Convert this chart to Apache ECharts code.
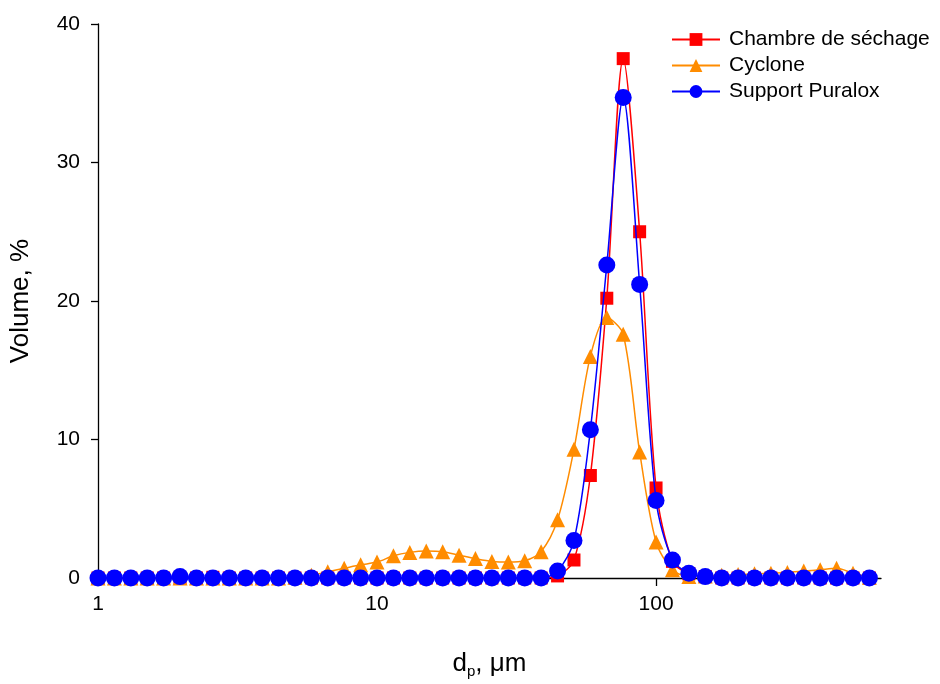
<!DOCTYPE html>
<html>
<head>
<meta charset="utf-8">
<script src="https://cdn.jsdelivr.net/npm/echarts@6/dist/echarts.min.js"></script>
<style>
html,body{margin:0;padding:0;background:#fff;}
#chart{width:940px;height:684px;}
</style>
</head>
<body>
<div id="chart"></div>
<script>
// Particle diameters (µm), log-spaced
var diameters = [1.000,1.145,1.311,1.501,1.719,1.968,2.253,2.580,2.955,3.383,3.874,4.436,5.080,5.816,6.660,7.626,8.733,10.00,11.45,13.11,15.01,17.19,19.68,22.53,25.80,29.55,33.83,38.74,44.36,50.80,58.16,66.60,76.26,87.33,100.0,114.5,131.1,150.1,171.9,196.8,225.3,258.0,295.5,338.3,387.4,443.6,508.0,581.6];

var chambre = [0,0,0,0,0,0,0,0.05,0,0,0,0,0,0,0,0,0,0,0,0,0,0,0,0,0,0,0,0,0.15,1.3,7.4,20.2,37.5,25.0,6.5,1.2,0.3,0.1,0,0,0,0,0,0,0,0,0,0];
var cyclone = [0,0,0,0,0,0,0,0,0,0,0,0,0.05,0.2,0.45,0.7,0.95,1.15,1.6,1.85,1.95,1.9,1.65,1.4,1.2,1.15,1.25,1.9,4.2,9.3,16.0,18.8,17.6,9.1,2.6,0.6,0.1,0.15,0.2,0.25,0.3,0.35,0.4,0.5,0.6,0.7,0.35,0.05];
var puralox = [0,0,0,0,0,0.1,0,0,0,0,0,0,0,0,0,0,0,0,0,0,0,0,0,0,0,0,0,0,0.5,2.7,10.7,22.6,34.7,21.2,5.6,1.3,0.35,0.1,0,0,0,0,0,0,0,0,0,0];

var seriesNames = ['Chambre de séchage','Cyclone','Support Puralox'];
var xTicks = [1,10,100];
var yTicks = [0,10,20,30,40];

function pairs(vals){ return diameters.map(function(d,i){ return [d, vals[i]]; }); }

var font = 'Liberation Sans, Arial, sans-serif';
var chart = echarts.init(document.getElementById('chart'), null, {renderer:'canvas'});
chart.setOption({
  animation:false,
  backgroundColor:'#ffffff',
  grid:{left:98, right:59, top:24, bottom:104, containLabel:false},
  legend:{
    orient:'vertical', left:666, top:24,
    itemWidth:48, itemHeight:16, itemGap:5,
    textStyle:{fontFamily:font, fontSize:21, color:'#000', padding:[0,0,0,4]},
    data:seriesNames
  },
  xAxis:{
    type:'log', logBase:10, min:1, max:640,
    name:'d{s|p}, μm', nameLocation:'middle', nameGap:70,
    nameTextStyle:{fontFamily:font, fontSize:26, color:'#000',
      rich:{s:{fontFamily:font, fontSize:15, color:'#000', verticalAlign:'bottom', padding:[16,0,0,0]}}},
    axisLine:{show:true, onZero:false, lineStyle:{color:'#000', width:1.3}},
    axisTick:{show:true, inside:false, length:8, customValues:xTicks, lineStyle:{color:'#000', width:1.3}},
    minorTick:{show:false},
    axisLabel:{fontFamily:font, fontSize:21, color:'#000', margin:16, customValues:xTicks,
      formatter:function(v){ return String(v); }},
    splitLine:{show:false}
  },
  yAxis:{
    type:'value', min:0, max:40, interval:10,
    name:'Volume, %', nameLocation:'middle', nameGap:64, nameRotate:90,
    nameTextStyle:{fontFamily:font, fontSize:26, color:'#000'},
    axisLine:{show:true, lineStyle:{color:'#000', width:1.3}},
    axisTick:{show:true, inside:false, length:7, lineStyle:{color:'#000', width:1.3}},
    axisLabel:{fontFamily:font, fontSize:21, color:'#000', margin:18,
      formatter:function(v){ return yTicks.indexOf(v)>=0 ? String(v) : ''; }},
    splitLine:{show:false}
  },
  series:[
    {name:seriesNames[0], type:'line', data:pairs(chambre), smooth:0.3,
     symbol:'rect', symbolSize:13, color:'#ff0000',
     lineStyle:{color:'#ff0000', width:1.5}, itemStyle:{color:'#ff0000'}, z:2},
    {name:seriesNames[1], type:'line', data:pairs(cyclone), smooth:0.3,
     symbol:'triangle', symbolSize:15, color:'#ff8c00',
     lineStyle:{color:'#ff8c00', width:1.5}, itemStyle:{color:'#ff8c00'}, z:3},
    {name:seriesNames[2], type:'line', data:pairs(puralox), smooth:0.3,
     symbol:'circle', symbolSize:17, color:'#0000ff',
     lineStyle:{color:'#0000ff', width:1.5}, itemStyle:{color:'#0000ff'}, z:4}
  ]
});
</script>
</body>
</html>
